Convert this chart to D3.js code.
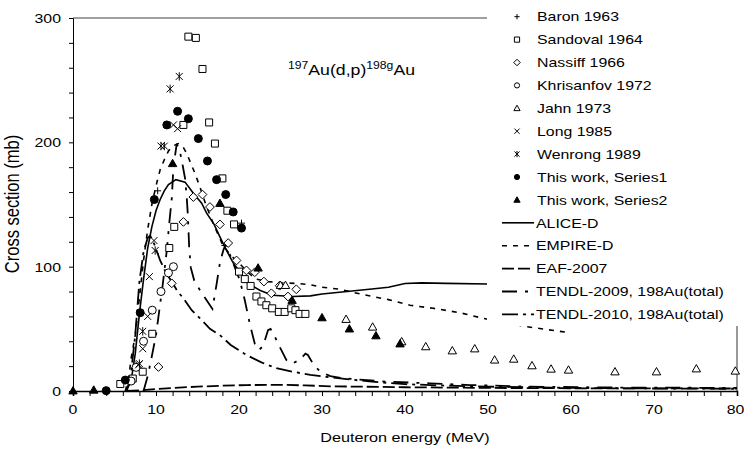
<!DOCTYPE html>
<html lang="en">
<head>
<meta charset="UTF-8">
<title>197Au(d,p)198gAu cross section</title>
<script src="https://cdnjs.cloudflare.com/ajax/libs/d3/7.8.5/d3.min.js"></script>
<style>
  body { margin: 0; background: #fff; }
  svg { display: block; font-family: Arial, "Liberation Sans", sans-serif; }
</style>
</head>
<body>
<svg id="chart" width="744" height="455"></svg>
<script>
// Experimental points [E (MeV), sigma (mb)]
const baron = [[10.2, 161], [18.3, 117], [20.3, 135]];
const sandoval = [[5.7, 5.6], [7.2, 10], [8.4, 15.5], [9.55, 46], [11.6, 115], [12.2, 132], [13.3, 214],
  [13.9, 285], [14.8, 284], [15.6, 259], [16.4, 216], [17.1, 199], [18.0, 171], [18.6, 145], [19.4, 134],
  [20.0, 96], [20.7, 90], [21.4, 84.5], [22.1, 76], [22.7, 72], [23.3, 69], [24.0, 66.5], [24.8, 63.6],
  [25.5, 63.6], [26.3, 66.5], [26.8, 65], [27.3, 62], [28.0, 62]];
const nassiff = [[10.3, 19.3], [11.9, 86.6], [13.3, 136], [14.5, 156], [15.6, 158], [16.5, 148], [17.7, 134],
  [18.7, 119], [19.7, 105], [20.9, 97], [21.9, 95.5], [23.0, 88], [23.9, 78.6], [24.9, 84.7], [25.9, 76], [26.9, 81.8]];
const khrisanfov = [[7.0, 8], [7.6, 19], [8.5, 40], [9.55, 65], [10.6, 80], [11.5, 95], [12.1, 100]];
const jahn = [[25.0, 85], [25.6, 85], [32.9, 57.7], [36.1, 51.5], [39.6, 39.7], [42.5, 35.7], [45.7, 32.4],
  [48.4, 34], [50.8, 25], [53.1, 25.7], [55.3, 20.4], [57.6, 17.7], [59.7, 16.9], [65.3, 15.5], [70.3, 15.5],
  [75.1, 17.9], [79.8, 16.1]];
const long85 = [[7.9, 21], [8.4, 34], [9.0, 60], [9.2, 92], [9.76, 121], [12.1, 214], [12.6, 211]];
const wenrong = [[8.0, 22], [8.4, 48], [9.9, 113], [10.6, 197], [11.0, 197], [11.7, 243], [12.8, 253]];
const series1 = [[4.0, 0.3], [6.3, 8.8], [8.1, 63], [9.8, 154], [11.3, 214], [12.6, 225], [13.9, 219],
  [15.1, 203], [16.2, 185], [17.3, 170], [18.4, 158], [19.3, 144], [20.3, 131]];
const series2 = [[0, 0.2], [2.5, 0.8], [12.0, 183], [17.7, 151], [22.3, 99], [26.4, 73], [30.0, 59],
  [33.3, 50], [36.5, 44.5], [39.4, 38]];

// Model curves
const aliceD = [[6.3, 0], [6.7, 4], [7, 8], [7.5, 30], [8, 62], [8.5, 90], [9, 115], [9.5, 132], [10, 145],
  [10.5, 154], [11, 161], [11.5, 166], [12.4, 170], [13.5, 168], [14.5, 159], [15.5, 151], [16.1, 143],
  [17, 134], [17.7, 124], [18.5, 113], [19.3, 103], [20.1, 96], [21, 87], [22.5, 81], [24, 77], [26.5, 76],
  [28.6, 76.5], [30, 78], [33, 80], [36, 82], [38, 83.5], [40, 86.5], [42, 87], [45, 86.6], [50, 86],
  [60, 86], [70, 86], [80, 86]];
const empireD = [[6.3, 0], [6.7, 10], [7, 26], [7.5, 45], [8, 75], [8.5, 105], [9, 130], [9.5, 150],
  [10, 165], [10.5, 178], [11, 186], [11.5, 193], [12, 197], [12.7, 199], [13.2, 197], [13.7, 191],
  [14.2, 183], [14.7, 175], [15.3, 164], [16, 150], [17, 133], [18, 118], [19, 109], [20, 103], [21, 96],
  [22, 90], [23.5, 88], [25, 87], [27, 86.5], [28.5, 85.5], [30, 83.5], [32, 82], [35, 77.5], [38, 73.5],
  [40.6, 69], [43.4, 66.5], [46.6, 63], [49.4, 58.5], [52, 55], [54.7, 51.7], [57, 49.5], [59.7, 47]];
const eaf2007 = [[6.5, 0], [8, 0.5], [10, 1.5], [12, 2.5], [15, 3.5], [18, 4.3], [21, 4.8], [25, 5],
  [28, 4.5], [31, 3.8], [40, 3], [50, 2.5], [60, 2.2], [80, 2]];
const tendl2009 = [[8.5, 0], [9, 12], [9.5, 28], [10, 45], [10.8, 85], [11.3, 113], [11.6, 135], [11.9, 155],
  [12.1, 180], [12.5, 199], [12.9, 192], [13.2, 182], [13.5, 171], [13.7, 156], [13.85, 140], [14, 115],
  [14.2, 99], [14.6, 89], [15.3, 81], [16.1, 73], [16.8, 66], [17.3, 86], [17.7, 103], [18.1, 113],
  [18.4, 118], [19, 108], [20.1, 89], [20.7, 73], [21.3, 54], [21.9, 38], [22.4, 33], [22.9, 36],
  [23.5, 49], [23.8, 50], [24.3, 44], [24.9, 35.6], [25.7, 25], [26.4, 22], [27.3, 25], [28, 30],
  [28.3, 29], [29, 21], [29.8, 15.5], [31, 12], [32.6, 10.2], [37.8, 7.5], [43, 6.2], [47.8, 4.8],
  [55, 3.5], [65, 2.8], [80, 2.5]];
const tendl2010 = [[6.5, 0], [7, 15], [7.5, 45], [8, 88], [8.5, 112], [9, 123], [9.3, 125], [9.8, 118],
  [10.5, 105], [11.2, 95], [11.9, 88], [12.6, 80], [13.3, 74.6], [14.3, 65], [15.3, 58.5], [16.5, 50],
  [17.7, 45], [19, 37], [20.9, 29], [22.7, 23], [24.5, 18.3], [26.5, 15.5], [28.6, 12.9], [31, 11],
  [33, 9.5], [36, 7.5], [40, 5.5], [45, 4.3], [50, 3.5], [60, 2.5], [70, 2], [80, 1.8]];

const xTicks = [0, 10, 20, 30, 40, 50, 60, 70, 80];
const yTicks = [0, 100, 200, 300];

// symbols and line styles
const points = [
  { name: "Baron 1963", data: baron, type: "plus", fill: "none" },
  { name: "Sandoval 1964", data: sandoval, type: "square", fill: "#fff" },
  { name: "Nassiff 1966", data: nassiff, type: "diamond", fill: "#fff" },
  { name: "Khrisanfov 1972", data: khrisanfov, type: "circle", fill: "#fff" },
  { name: "Jahn 1973", data: jahn, type: "triangle", fill: "#fff" },
  { name: "Long 1985", data: long85, type: "times", fill: "none" },
  { name: "Wenrong 1989", data: wenrong, type: "star", fill: "none" },
  { name: "This work, Series1", data: series1, type: "circle", fill: "#000" },
  { name: "This work, Series2", data: series2, type: "triangle", fill: "#000" }
];
const curves = [
  { name: "ALICE-D", data: aliceD, dash: null, w: 1.6 },
  { name: "EMPIRE-D", data: empireD, dash: "5,6", w: 1.6 },
  { name: "EAF-2007", data: eaf2007, dash: "12,4", w: 1.8 },
  { name: "TENDL-2009, 198Au(total)", data: tendl2009, dash: "15,8,3,8", w: 1.8 },
  { name: "TENDL-2010, 198Au(total)", data: tendl2010, dash: "16,5,3,5", w: 1.8 }
];

const SX = 1.22; // picture is stretched horizontally
const svg = d3.select("#chart");
const x = d3.scaleLinear().domain([0, 80]).range([73, 737]);
const y = d3.scaleLinear().domain([0, 300]).range([391, 18]);

function symbolPath(type, r) {
  switch (type) {
    case "square": return `M${-r},${-r}h${2 * r}v${2 * r}h${-2 * r}Z`;
    case "diamond": { const d = r * 1.25; return `M0,${-d}L${d},0L0,${d}L${-d},0Z`; }
    case "circle": return `M${r},0A${r},${r} 0 1,1 ${-r},0A${r},${r} 0 1,1 ${r},0Z`;
    case "triangle": { const d = r * 1.2; return `M0,${-d}L${d},${d * 0.75}L${-d},${d * 0.75}Z`; }
    case "plus": return `M${-r},0H${r}M0,${-r}V${r}`;
    case "times": return `M${-r},${-r}L${r},${r}M${-r},${r}L${r},${-r}`;
    case "star": return `M${-r},${-r}L${r},${r}M${-r},${r}L${r},${-r}M0,${-r * 1.2}V${r * 1.2}`;
  }
}

function label(g, px, py, str, size, anchor) {
  return g.append("text")
    .attr("transform", `translate(${px},${py}) scale(${SX},1)`)
    .attr("text-anchor", anchor || "start")
    .attr("font-size", size)
    .attr("fill", "#000")
    .text(str);
}

// frame
svg.append("line").attr("x1", x(0)).attr("x2", x(80)).attr("y1", y(300)).attr("y2", y(300))
  .attr("stroke", "#808080").attr("stroke-width", 1.5);
svg.append("line").attr("x1", x(80)).attr("x2", x(80)).attr("y1", y(300)).attr("y2", y(0))
  .attr("stroke", "#333").attr("stroke-width", 1);

// curves
const line = d3.line().x(d => x(d[0])).y(d => y(d[1]));
curves.forEach(c => {
  svg.append("path").attr("d", line(c.data)).attr("fill", "none")
    .attr("stroke", "#000").attr("stroke-width", c.w)
    .attr("stroke-dasharray", c.dash);
});

// points
points.forEach(s => {
  svg.append("g").selectAll("path").data(s.data).join("path")
    .attr("transform", d => `translate(${x(d[0])},${y(d[1])})`)
    .attr("d", symbolPath(s.type, s.type === "circle" ? 4 : 3.5))
    .attr("fill", s.fill).attr("stroke", "#000").attr("stroke-width", 1);
});

// axes
const ax = svg.append("g").attr("transform", `translate(0,${y(0)})`)
  .call(d3.axisBottom(x).tickValues(d3.range(0, 81, 2)).tickSize(5).tickFormat(""));
ax.select(".domain").attr("stroke-width", 1.6);
svg.append("g").attr("transform", `translate(${x(0)},0)`)
  .call(d3.axisLeft(y).tickValues(d3.range(0, 301, 20)).tickSize(4).tickFormat(""));
svg.selectAll(".tick line").attr("stroke", "#000");

xTicks.forEach(t => label(svg, t === 80 ? x(t) - 1.5 : x(t), 414, t, 13, "middle"));
yTicks.forEach(t => label(svg, 61, y(t) + 5, t, 13, "end"));
label(svg, 405, 442, "Deuteron energy (MeV)", 13.3, "middle");
svg.append("text")
  .attr("transform", `translate(18.5,204) rotate(-90) scale(1,${SX})`)
  .attr("text-anchor", "middle").attr("font-size", 16.5)
  .text("Cross section (mb)");

// reaction label
const rl = svg.append("text").attr("transform", `translate(288,75) scale(${SX},1)`).attr("font-size", 14.5);
rl.append("tspan").attr("font-size", 10).attr("dy", -6).text("197");
rl.append("tspan").attr("dy", 6).text("Au(d,p)");
rl.append("tspan").attr("font-size", 10).attr("dy", -6).text("198g");
rl.append("tspan").attr("dy", 6).text("Au");

// legend
svg.append("rect").attr("x", 487).attr("y", 0).attr("width", 257).attr("height", 326).attr("fill", "#fff");
const lg = svg.append("g");
const rowY = i => 16.7 + i * 22.9;
points.forEach((s, i) => {
  lg.append("path").attr("transform", `translate(517,${rowY(i)})`)
    .attr("d", symbolPath(s.type, 2.6))
    .attr("fill", s.fill).attr("stroke", "#000").attr("stroke-width", 1);
  label(lg, 537, rowY(i) + 4.7, s.name, 13);
});
curves.forEach((c, j) => {
  const i = j + points.length;
  lg.append("line").attr("x1", 502).attr("x2", 534).attr("y1", rowY(i)).attr("y2", rowY(i))
    .attr("stroke", "#000").attr("stroke-width", c.w).attr("stroke-dasharray", c.dash);
  label(lg, 536, rowY(i) + 4.7, c.name, 13);
});
</script>
</body>
</html>
